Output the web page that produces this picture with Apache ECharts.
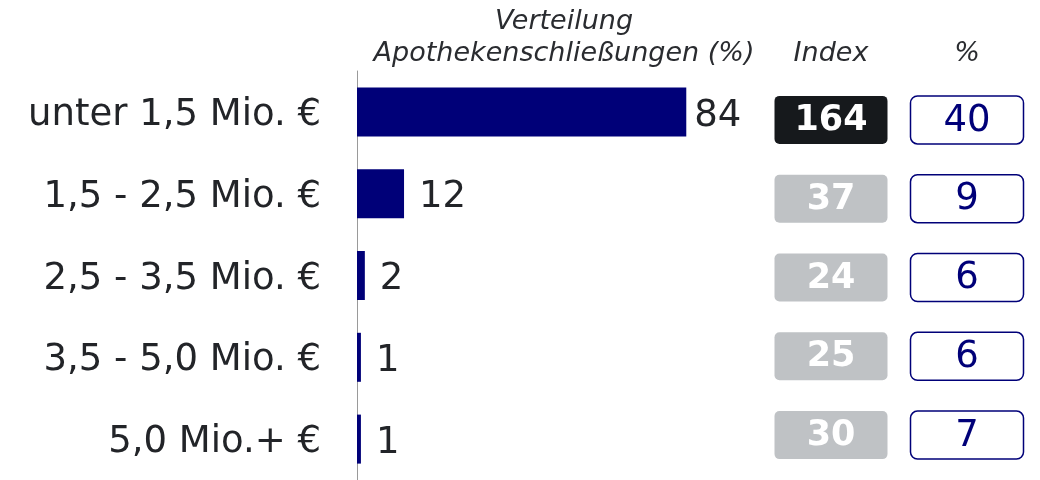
<!DOCTYPE html>
<html><head><meta charset="utf-8">
<script src="https://cdn.jsdelivr.net/npm/echarts@6/dist/echarts.min.js"></script>
<style>html,body{margin:0;padding:0;background:#fff}#c{width:1040px;height:480px}</style>
</head><body><div id="c"></div>
<script>
const categories = ['unter 1,5 Mio. €', '1,5 - 2,5 Mio. €', '2,5 - 3,5 Mio. €', '3,5 - 5,0 Mio. €', '5,0 Mio.+ €'];
const verteilung = [84, 12, 2, 1, 1];
const indexValues = [164, 37, 24, 25, 30];
const pctValues = [40, 9, 6, 6, 7];
const titleBar = 'Verteilung\nApothekenschließungen (%)';
const titleIndex = 'Index';
const titlePct = '%';

const FONT = 'DejaVu Sans';
const TXT = '#222428';
const NAVY = '#000078';

function boxSeries(name, gridIdx, values, styleFn) {
  return {
    type: 'custom', name: name, xAxisIndex: gridIdx, yAxisIndex: gridIdx,
    data: values.map((v, i) => [i, v]),
    renderItem: function (params, api) {
      const i = api.value(0);
      const cy = api.coord([0, i])[1];
      const cs = params.coordSys;
      const h = 48;
      const s = styleFn(i, api.value(1));
      return {
        type: 'group',
        children: [{
          type: 'rect',
          shape: { x: cs.x + 0.5, y: cy - h / 2, width: cs.width - 1, height: h, r: s.r },
          style: { fill: s.fill, stroke: s.stroke, lineWidth: s.lw }
        }, {
          type: 'text',
          x: cs.x + cs.width / 2, y: cy + 1,
          style: { text: String(api.value(1)), fill: s.color, font: s.font, align: 'center', verticalAlign: 'middle' }
        }]
      };
    }
  };
}

const titleStyle = { fontFamily: FONT, fontStyle: 'italic', fontWeight: 'normal', fontSize: 27, color: '#2a2c30', lineHeight: 32, align: 'center' };

const chart = echarts.init(document.getElementById('c'));
chart.setOption({
  animation: false,
  backgroundColor: '#fff',
  title: [
    { text: titleBar, left: 564, top: 6, textAlign: 'center', padding: 0, textStyle: titleStyle },
    { text: titleIndex, left: 831, top: 38, textAlign: 'center', padding: 0, textStyle: titleStyle },
    { text: titlePct, left: 967, top: 38, textAlign: 'center', padding: 0, textStyle: titleStyle }
  ],
  grid: [
    { left: 357, top: 71, width: 392, height: 417 },
    { left: 774, top: 80.5, width: 114, height: 394 },
    { left: 910, top: 80.5, width: 114, height: 394 }
  ],
  xAxis: [
    { gridIndex: 0, type: 'value', min: 0, max: 100, show: false },
    { gridIndex: 1, type: 'value', min: 0, max: 1, show: false },
    { gridIndex: 2, type: 'value', min: 0, max: 1, show: false }
  ],
  yAxis: [
    { gridIndex: 0, type: 'category', data: categories, inverse: true,
      axisLine: { show: true, lineStyle: { color: '#9a9a9a', width: 1 } },
      axisTick: { show: false },
      axisLabel: { margin: 36, color: TXT, verticalAlign: 'middle',
        formatter: (v) => '{c|' + v + '}',
        rich: { c: { fontFamily: FONT, fontSize: 37, color: TXT, padding: [7, 0, 0, 0] } } } },
    { gridIndex: 1, type: 'category', data: categories, inverse: true, show: false },
    { gridIndex: 2, type: 'category', data: categories, inverse: true, show: false }
  ],
  series: [
    { type: 'bar', xAxisIndex: 0, yAxisIndex: 0, barWidth: 49,
      data: verteilung.map((v, i) => i === 0 ? { value: v, label: { distance: 8 } } : v),
      itemStyle: { color: NAVY },
      label: { show: true, position: 'right', distance: 15, offset: [0, 4], fontFamily: FONT, fontSize: 37, color: TXT } },
    boxSeries('Index', 1, indexValues, (i) => ({
      fill: i === 0 ? '#16191c' : '#bfc2c5', stroke: null, lw: 0, r: 5,
      color: '#ffffff', font: 'bold 35px "DejaVu Sans"'
    })),
    boxSeries('%', 2, pctValues, () => ({
      fill: '#ffffff', stroke: NAVY, lw: 1.5, r: 7,
      color: NAVY, font: '37px "DejaVu Sans"'
    }))
  ]
});
</script></body></html>
